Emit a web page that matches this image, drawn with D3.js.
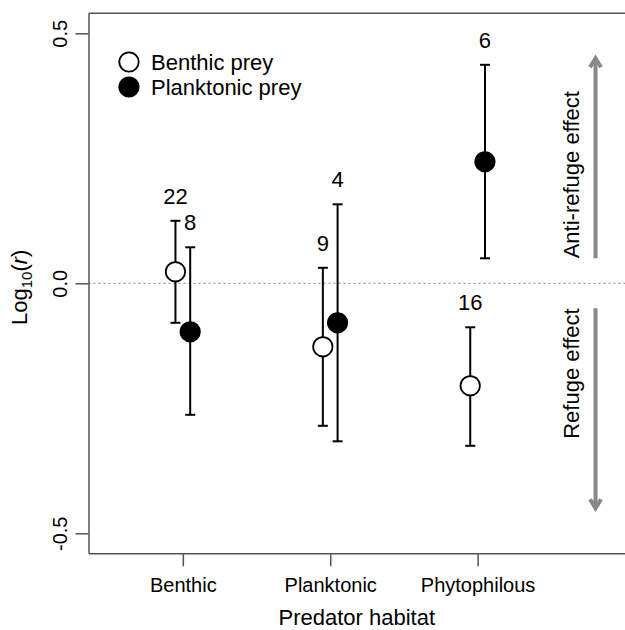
<!DOCTYPE html>
<html>
<head>
<meta charset="utf-8">
<script src="https://cdn.jsdelivr.net/npm/d3@7"></script>
<style>
  body { margin: 0; background: #fff; }
  svg text { font-family: "Liberation Sans", Arial, Helvetica, sans-serif; fill: #000; }
</style>
</head>
<body>
<div id="chart"></div>
<script>
// Predator habitat categories (x positions 1..3)
const categories = ["Benthic", "Planktonic", "Phytophilous"];

// Benthic prey (open circles)
const benthicMean = [0.023, -0.127, -0.205];
const benthicLow = [-0.079, -0.285, -0.325];
const benthicHigh = [0.125, 0.031, -0.088];
const benthicN = [22, 9, 16];

// Planktonic prey (filled circles)
const planktonicMean = [-0.097, -0.079, 0.243];
const planktonicLow = [-0.263, -0.316, 0.050];
const planktonicHigh = [0.072, 0.158, 0.437];
const planktonicN = [8, 4, 6];

const yTicks = [-0.5, 0.0, 0.5];
const legendLabels = ["Benthic prey", "Planktonic prey"];

// Effect arrows: start and end (in log10 r), and their labels
const arrowFrom = [0.05, -0.05];
const arrowTo = [0.45, -0.45];
const arrowLabels = ["Anti-refuge effect", "Refuge effect"];

(function () {
    const width = 625;
    const height = 630;
    const plot = { left: 88.5, right: 625, top: 13.3, bottom: 553.3 };
    const dodge = 0.05;

    const svg = d3.select("#chart")
        .append("svg")
        .attr("width", width)
        .attr("height", height);

    const x = d3.scaleLinear()
        .domain([0.36, 4.0])
        .range([plot.left, plot.right]);

    const y = d3.scaleLinear()
        .domain([-0.54, 0.54])
        .range([plot.bottom, plot.top]);

    // reference line at zero
    svg.append("line")
        .attr("x1", plot.left)
        .attr("x2", plot.right)
        .attr("y1", y(0))
        .attr("y2", y(0))
        .attr("stroke", "#888")
        .attr("stroke-width", 1)
        .attr("stroke-dasharray", "2 3");

    // y axis
    const yAxis = svg.append("g")
        .attr("transform", `translate(${plot.left},0)`)
        .call(d3.axisLeft(y).tickValues(yTicks).tickSize(13).tickSizeOuter(0)
            .tickFormat(d => d.toFixed(1)));
    yAxis.selectAll("path, line").attr("stroke", "#555").attr("stroke-width", 1.5);
    yAxis.selectAll("text")
        .attr("x", 0).attr("y", 0).attr("dy", 0)
        .attr("transform", "translate(-22,0) rotate(-90)")
        .attr("text-anchor", "middle")
        .style("font-size", "20px")
        .attr("fill", "#000");

    // x axis
    const xAxis = svg.append("g")
        .attr("transform", `translate(0,${plot.bottom})`)
        .call(d3.axisBottom(x).tickValues([1, 2, 3]).tickSize(13).tickSizeOuter(0)
            .tickFormat(d => categories[d - 1]));
    xAxis.selectAll("path, line").attr("stroke", "#555").attr("stroke-width", 1.5);
    xAxis.selectAll("text")
        .attr("y", 39).attr("dy", 0)
        .style("font-size", "20px")
        .attr("fill", "#000");

    // top border
    svg.append("line")
        .attr("x1", plot.left)
        .attr("x2", plot.right)
        .attr("y1", plot.top)
        .attr("y2", plot.top)
        .attr("stroke", "#555")
        .attr("stroke-width", 1.5);

    // axis titles
    svg.append("text")
        .attr("x", (plot.left + plot.right) / 2)
        .attr("y", 625)
        .attr("text-anchor", "middle")
        .style("font-size", "22px")
        .text("Predator habitat");

    const ylab = svg.append("text")
        .attr("transform", `translate(27,${(plot.top + plot.bottom) / 2 + 4}) rotate(-90)`)
        .attr("text-anchor", "middle")
        .style("font-size", "22px");
    ylab.append("tspan").text("Log");
    ylab.append("tspan").attr("dy", 5).style("font-size", "15px").text("10");
    ylab.append("tspan").attr("dy", -5).text("(");
    ylab.append("tspan").style("font-style", "italic").text("r");
    ylab.append("tspan").text(")");

    const series = [
        { mean: benthicMean, low: benthicLow, high: benthicHigh, n: benthicN, shift: -dodge, fill: "#fff" },
        { mean: planktonicMean, low: planktonicLow, high: planktonicHigh, n: planktonicN, shift: dodge, fill: "#000" }
    ];

    series.forEach(s => {
        const rows = categories.map((c, i) => ({
            xi: i + 1 + s.shift,
            mean: s.mean[i],
            low: s.low[i],
            high: s.high[i],
            n: s.n[i]
        }));

        const g = svg.append("g");

        // whiskers
        g.selectAll(".whisker")
            .data(rows)
            .enter()
            .append("line")
            .attr("x1", d => x(d.xi))
            .attr("x2", d => x(d.xi))
            .attr("y1", d => y(d.low))
            .attr("y2", d => y(d.high))
            .attr("stroke", "#000")
            .attr("stroke-width", 2);

        // caps
        ["low", "high"].forEach(k => {
            g.selectAll(".cap-" + k)
                .data(rows)
                .enter()
                .append("line")
                .attr("x1", d => x(d.xi) - 5)
                .attr("x2", d => x(d.xi) + 5)
                .attr("y1", d => y(d[k]))
                .attr("y2", d => y(d[k]))
                .attr("stroke", "#000")
                .attr("stroke-width", 2);
        });

        // points
        g.selectAll("circle")
            .data(rows)
            .enter()
            .append("circle")
            .attr("cx", d => x(d.xi))
            .attr("cy", d => y(d.mean))
            .attr("r", 9.7)
            .attr("fill", s.fill)
            .attr("stroke", "#000")
            .attr("stroke-width", 1.8);

        // sample sizes
        g.selectAll("text")
            .data(rows)
            .enter()
            .append("text")
            .attr("x", d => x(d.xi))
            .attr("y", d => y(d.high) - 17)
            .attr("text-anchor", "middle")
            .style("font-size", "22px")
            .text(d => d.n);
    });

    // effect arrows
    const arrowX = x(3.8);
    arrowFrom.forEach((from, i) => {
        const to = arrowTo[i];
        const dir = to > from ? 1 : -1;
        svg.append("line")
            .attr("x1", arrowX)
            .attr("x2", arrowX)
            .attr("y1", y(from))
            .attr("y2", y(to))
            .attr("stroke", "#888")
            .attr("stroke-width", 4);
        svg.append("path")
            .attr("d", `M${arrowX - 5.5},${y(to) + dir * 9}L${arrowX},${y(to)}L${arrowX + 5.5},${y(to) + dir * 9}`)
            .attr("fill", "none")
            .attr("stroke", "#888")
            .attr("stroke-width", 4)
            .attr("stroke-linejoin", "miter");
        svg.append("text")
            .attr("transform", `translate(${x(3.685)},${y(from)}) rotate(-90)`)
            .attr("text-anchor", dir > 0 ? "start" : "end")
            .style("font-size", "22px")
            .text(arrowLabels[i]);
    });

    // legend
    const legend = svg.append("g")
        .attr("transform", "translate(129,62)");
    legendLabels.forEach((label, i) => {
        legend.append("circle")
            .attr("cx", 0)
            .attr("cy", i * 25)
            .attr("r", 9.7)
            .attr("fill", i === 0 ? "#fff" : "#000")
            .attr("stroke", "#000")
            .attr("stroke-width", 1.8);
        legend.append("text")
            .attr("x", 22)
            .attr("y", i * 25 + 7.5)
            .style("font-size", "22px")
            .text(label);
    });
})();
</script>
</body>
</html>
